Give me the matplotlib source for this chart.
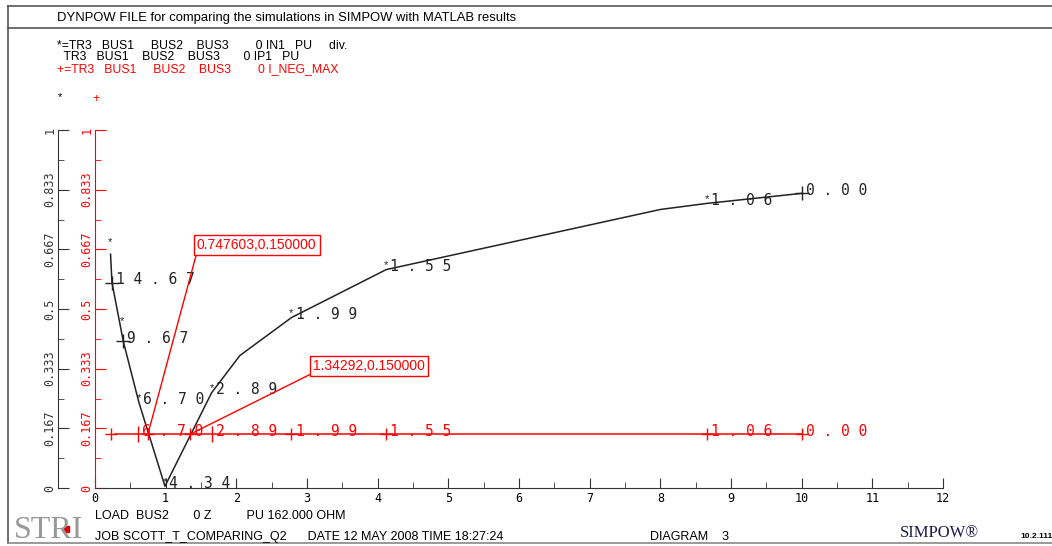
import matplotlib
matplotlib.use("Agg")
import matplotlib.pyplot as plt
from matplotlib.patches import Rectangle
from matplotlib.lines import Line2D

# ---------- data ----------
# black curve: IN1 (pu) against load impedance Z
in1_x = [0.22, 0.24, 0.40, 0.62, 0.99, 1.65, 2.05, 2.78, 4.12, 8.00, 8.66, 10.00]
in1_y = [0.653, 0.574, 0.410, 0.240, 0.005, 0.266, 0.370, 0.476, 0.610, 0.778, 0.795, 0.823]
in1_lbl_x = [0.24, 0.40, 0.62, 0.99, 1.65, 2.78, 4.12, 8.66, 10.00]
in1_lbl_y = [0.574, 0.410, 0.240, 0.005, 0.266, 0.476, 0.610, 0.795, 0.823]
in1_lbl = ["14.67", "9.67", "6.70", "4.34", "2.89", "1.99", "1.55", "1.06", "0.00"]
in1_mark = ["+", "+", "*", "*", "*", "*", "*", "*", "+"]
# stray '*' markers drawn above the curve
star_x = [0.21, 0.38]
star_y = [0.686, 0.465]

# red line: I_NEG_MAX
neg_x = [0.23, 0.61, 1.65, 2.78, 4.12, 8.66, 10.00]
neg_y = [0.15, 0.15, 0.15, 0.15, 0.15, 0.15, 0.15]
neg_lbl = ["", "6.70", "2.89", "1.99", "1.55", "1.06", "0.00"]
neg_mark = ["+", "|", "|", "+", "+", "+", "+"]

# crossing points marked in the plot
cross_x = [0.747603, 1.34292]
cross_y = [0.150000, 0.150000]
cross_txt = ["0.747603,0.150000", "1.34292,0.150000"]

yticks = [0, 1/6, 2/6, 3/6, 4/6, 5/6, 1]
ytick_lbl = ["0", "0.167", "0.333", "0.5", "0.667", "0.833", "1"]
xticks = list(range(0, 13))

W, H = 1052, 546
RED = "#ff0000"
BLK = "#222222"
SANS = "Liberation Sans"
MONO = "DejaVu Sans Mono"


def px(x, y):
    return x / W, 1 - y / H


def spaced(s):
    return " ".join(s)


fig = plt.figure(figsize=(W / 100, H / 100), dpi=100)

# page frame
fig.add_artist(Line2D([8 / W, 1], [1 - 6 / H, 1 - 6 / H], color="#555555", lw=1.2))
fig.add_artist(Line2D([8 / W, 1], [1 - 28 / H, 1 - 28 / H], color="#555555", lw=1.2))
fig.add_artist(Line2D([8 / W, 8 / W], [1 - 6 / H, 1 - 543 / H], color="#555555", lw=1.2))
fig.add_artist(Line2D([8 / W, 1], [1 - 543 / H, 1 - 543 / H], color="#888888", lw=1.2))

fig.text(*px(57, 18), "DYNPOW FILE for comparing the simulations in SIMPOW with MATLAB results",
         fontsize=9.4, family=SANS, va="center")
fig.text(*px(57, 46), "*=TR3   BUS1     BUS2    BUS3        0 IN1   PU     div.",
         fontsize=8.8, family=SANS, va="center")
fig.text(*px(57, 57), "  TR3   BUS1    BUS2    BUS3       0 IP1   PU",
         fontsize=8.8, family=SANS, va="center")
fig.text(*px(57, 69), "+=TR3   BUS1     BUS2    BUS3        0 I_NEG_MAX",
         fontsize=8.8, family=SANS, va="center", color=RED)
fig.text(*px(58, 97), "*", fontsize=8, family=SANS, va="center")
fig.text(*px(96, 99), "+", fontsize=9, family=SANS, va="center", ha="center", color=RED)

# main axes (red y axis + x axis)
ax = fig.add_axes([95 / W, 58 / H, 848 / W, 358 / H])
ax.set_xlim(0, 12)
ax.set_ylim(0, 1)
ax.spines["top"].set_visible(False)
ax.spines["right"].set_visible(False)
ax.spines["left"].set_color(RED)
ax.spines["bottom"].set_color("#333333")
ax.set_yticks(yticks)
ax.set_yticklabels(ytick_lbl, rotation=90, va="center", family=MONO, fontsize=8.5, color=RED)
ax.set_yticks([i / 12 for i in range(1, 12, 2)], minor=True)
ax.set_xticks(xticks)
ax.set_xticklabels([str(t) for t in xticks], family=MONO, fontsize=8.5)
ax.set_xticks([i + 0.5 for i in range(12)], minor=True)
ax.tick_params(axis="y", which="both", direction="in", colors=RED, pad=1)
ax.tick_params(axis="y", which="major", length=8)
ax.tick_params(axis="y", which="minor", length=4)
ax.tick_params(axis="x", which="both", direction="in", color="#333333", pad=3)
ax.tick_params(axis="x", which="major", length=7)
ax.tick_params(axis="x", which="minor", length=4)

# black y axis further left
sec = ax.secondary_yaxis((58 - 95) / 848)
sec.spines["left"].set_color("#333333")
sec.set_yticks(yticks)
sec.set_yticklabels(ytick_lbl, rotation=90, va="center", family=MONO, fontsize=8.5)
sec.set_yticks([i / 12 for i in range(1, 12, 2)], minor=True)
sec.tick_params(axis="y", which="both", direction="in", colors="#333333", pad=1)
sec.tick_params(axis="y", which="major", length=8)
sec.tick_params(axis="y", which="minor", length=4)

# black curve
ax.plot(in1_x, in1_y, color=BLK, lw=1.1)
for x, y in zip(star_x, star_y):
    ax.text(x, y, "*", fontsize=8, family=SANS, color=BLK, ha="center", va="center")
for x, y, s, m in zip(in1_lbl_x, in1_lbl_y, in1_lbl, in1_mark):
    if m == "+":
        ax.plot(x, y, "+", color=BLK, ms=10, mew=1)
    else:
        ax.text(x, y + 0.012, "*", fontsize=8, family=SANS, color=BLK, ha="center", va="center")
    ax.annotate(spaced(s), (x, y), xytext=(3, 2), textcoords="offset points",
                family=MONO, fontsize=10.5, color=BLK, va="center")

# red I_NEG_MAX line
ax.plot(neg_x[:1], neg_y[:1], "+", color=RED, ms=8, mew=1)
ax.plot([neg_x[0] + 0.06] + neg_x[1:], neg_y, color=RED, lw=1.1)
for x, y, s, m in zip(neg_x[1:], neg_y[1:], neg_lbl[1:], neg_mark[1:]):
    ax.plot(x, y, m, color=RED, ms=9 if m == "+" else 12, mew=1)
    ax.annotate(spaced(s), (x, y), xytext=(3, 2), textcoords="offset points",
                family=MONO, fontsize=10.5, color=RED, va="center")

# crossing annotations
box_pos = [((197 - 95) / 70.67, (488 - 252) / 358), ((313 - 95) / 70.67, (488 - 373) / 358)]
for (cx, cy), (bx, by), s in zip(zip(cross_x, cross_y), box_pos, cross_txt):
    ax.plot(cx, cy, "+", color=RED, ms=8, mew=1)
    ax.annotate(s, (cx, cy), xytext=(bx, by), textcoords="data",
                ha="left", va="bottom", fontsize=10, family=SANS, color=RED,
                bbox=dict(boxstyle="square,pad=0.22", fc="white", ec=RED, lw=1),
                arrowprops=dict(arrowstyle="-", color=RED, lw=1, relpos=(0, 0),
                                shrinkA=0, shrinkB=0))

# footer
fig.text(*px(95, 516), "LOAD  BUS2       0 Z          PU 162.000 OHM", fontsize=9,
         family=SANS, va="center")
fig.text(*px(95, 537), "JOB SCOTT_T_COMPARING_Q2      DATE 12 MAY 2008 TIME 18:27:24",
         fontsize=9, family=SANS, va="center")
fig.text(*px(650, 537), "DIAGRAM    3", fontsize=9, family=SANS, va="center")
fig.text(*px(900, 533), "SIMPOW®", fontsize=12, family="Liberation Serif", va="center",
         color="#1a1a4a")
fig.text(*px(1020, 537), "10.2.111", fontsize=6, family=SANS, va="center", weight="bold")
fig.text(*px(14, 530), "STRI", fontsize=23, family="Liberation Serif", va="center",
         color="#999999")
fig.add_artist(Rectangle(px(64, 532), 5 / W, 6 / H, color="#dd0000"))

fig.savefig("out.png", dpi=100)
